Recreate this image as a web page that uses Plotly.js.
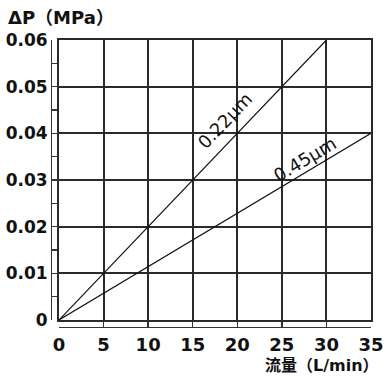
<!DOCTYPE html>
<html>
<head>
<meta charset="utf-8">
<script src="https://cdn.plot.ly/plotly-3.0.1.min.js"></script>
<style>html,body{margin:0;padding:0;background:#fff;}#chart{width:392px;height:378px;}</style>
</head>
<body>
<div id="chart"></div>
<script>
// Data
const flow022 = [0, 30];          // L/min
const dp022 = [0, 0.06];          // MPa
const flow045 = [0, 35];
const dp045 = [0, 0.04];
const seriesNames = ['0.22μm', '0.45μm'];
const xTicks = [0, 5, 10, 15, 20, 25, 30, 35];
const yTicks = [0, 0.01, 0.02, 0.03, 0.04, 0.05, 0.06];
const yTickText = ['0', '0.01', '0.02', '0.03', '0.04', '0.05', '0.06'];
const yMinorTicks = [0.005, 0.015, 0.025, 0.035, 0.045, 0.055];
const xTitle = '流量（L/min）';
const yTitle = 'ΔP（MPa）';
// label anchor positions (data coords)
const labelX = [18.6, 27.5];
const labelY = [0.0428, 0.0345];

const FONT = 'DejaVu Sans, Noto Sans CJK SC, sans-serif';
const xr = [0, 35], yr = [0, 0.06];

const traces = [
  {x: flow022, y: dp022, mode: 'lines', line: {color: '#111', width: 1.2}, name: seriesNames[0], xaxis: 'x', yaxis: 'y', hoverinfo: 'skip'},
  {x: flow045, y: dp045, mode: 'lines', line: {color: '#111', width: 1.2}, name: seriesNames[1], xaxis: 'x', yaxis: 'y', hoverinfo: 'skip'},
  // invisible copy so the offset outer axes are rendered
  {x: flow045, y: dp045, mode: 'lines', line: {color: 'rgba(0,0,0,0)', width: 0}, xaxis: 'x2', yaxis: 'y2', hoverinfo: 'skip', showlegend: false}
];

const GRID = '#2a2a2a';
const layout = {
  width: 392, height: 378,
  margin: {l: 51, r: 21, t: 40, b: 51, pad: 0},
  paper_bgcolor: '#fff', plot_bgcolor: '#fff',
  showlegend: false,
  font: {family: FONT, color: '#111'},
  xaxis: {
    domain: [0.025, 1], range: xr, tickvals: xTicks, showticklabels: false, ticks: '',
    showgrid: true, gridcolor: GRID, gridwidth: 2,
    zeroline: true, zerolinecolor: GRID, zerolinewidth: 2,
    showline: true, mirror: true, linecolor: GRID, linewidth: 2, fixedrange: true
  },
  yaxis: {
    domain: [0.0244, 1], range: yr, tickvals: yTicks, showticklabels: false, ticks: '',
    showgrid: true, gridcolor: GRID, gridwidth: 2,
    zeroline: true, zerolinecolor: GRID, zerolinewidth: 2,
    showline: true, mirror: true, linecolor: GRID, linewidth: 2, fixedrange: true
  },
  xaxis2: {
    overlaying: 'x', anchor: 'free', position: 0, range: xr,
    tickvals: xTicks, ticktext: xTicks.map(String), ticks: 'inside', ticklen: 5, tickwidth: 1.3, tickcolor: '#333',
    showline: true, linecolor: '#333', linewidth: 1.3, showgrid: false, zeroline: false,
    tickfont: {family: FONT, size: 18, color: '#111', weight: 'bold'}, ticklabelstandoff: 1, fixedrange: true
  },
  yaxis2: {
    overlaying: 'y', anchor: 'free', position: 0, side: 'left', range: yr,
    tickvals: yTicks, ticktext: yTickText, ticks: 'inside', ticklen: 8, tickwidth: 1.3, tickcolor: '#333',
    minor: {tickvals: yMinorTicks, ticks: 'inside', ticklen: 5, tickwidth: 1.3, tickcolor: '#333'},
    showline: true, linecolor: '#333', linewidth: 1.3, showgrid: false, zeroline: false,
    tickfont: {family: FONT, size: 17, color: '#111', weight: 'bold'}, fixedrange: true
  },
  annotations: [
    {text: yTitle, xref: 'paper', yref: 'paper', x: -0.14, y: 1.08, xanchor: 'left', yanchor: 'middle',
     showarrow: false, font: {family: FONT, size: 18, color: '#111', weight: 'bold'}},
    {text: xTitle, xref: 'paper', yref: 'paper', x: 1.03, y: -0.135, xanchor: 'right', yanchor: 'middle',
     showarrow: false, font: {family: FONT, size: 16, color: '#111', weight: 'bold'}},
    {text: seriesNames[0], x: labelX[0], y: labelY[0], xref: 'x', yref: 'y', showarrow: false, textangle: -46.3,
     font: {family: FONT, size: 18, color: '#111'}},
    {text: seriesNames[1], x: labelX[1], y: labelY[1], xref: 'x', yref: 'y', showarrow: false, textangle: -30.8,
     font: {family: FONT, size: 18, color: '#111'}}
  ]
};

Plotly.newPlot('chart', traces, layout, {staticPlot: true, displayModeBar: false});
</script>
</body>
</html>
